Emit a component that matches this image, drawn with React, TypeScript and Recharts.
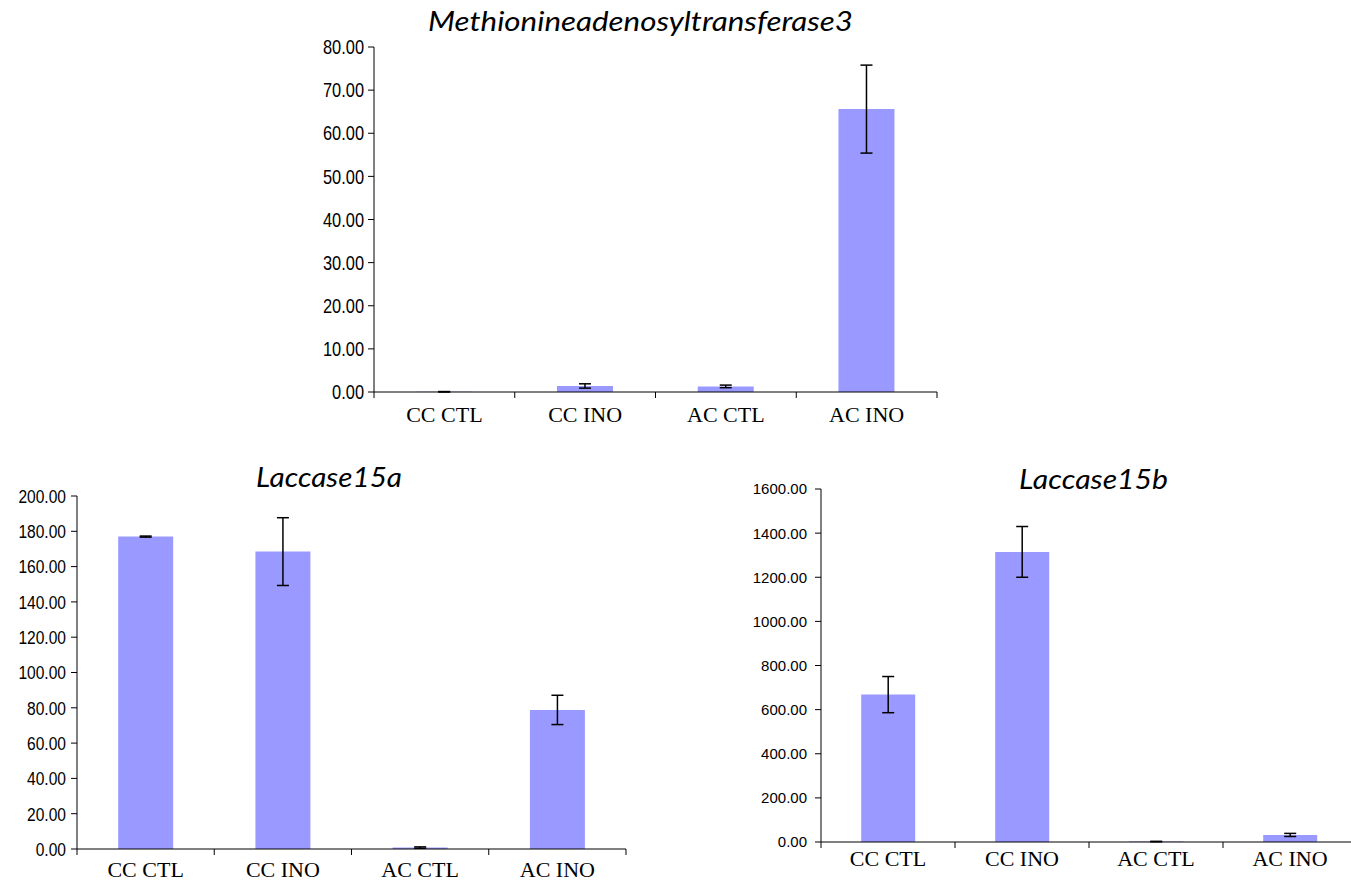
import React from 'react';
import { BarChart, Bar, XAxis, YAxis, ErrorBar } from 'recharts';

const categories = ['CC CTL', 'CC INO', 'AC CTL', 'AC INO'];

const matValues = [0.05, 1.4, 1.3, 65.6];
const matErrors = [0.05, 0.5, 0.3, 10.2];
const matTicks = [0, 10, 20, 30, 40, 50, 60, 70, 80];

const lac15aValues = [177, 168.5, 0.8, 78.8];
const lac15aErrors = [0.3, 19.2, 0.4, 8.3];
const lac15aTicks = [0, 20, 40, 60, 80, 100, 120, 140, 160, 180, 200];

const lac15bValues = [668, 1315, 2, 32];
const lac15bErrors = [82, 115, 1, 7];
const lac15bTicks = [0, 200, 400, 600, 800, 1000, 1200, 1400, 1600];

const BAR_COLOR = '#9999ff';

function toRows(values: number[], errors: number[]) {
  return categories.map((name, i) => ({ name, value: values[i], err: errors[i] }));
}

interface PanelProps {
  left: number;
  top: number;
  width: number;
  height: number;
  marginTop: number;
  marginRight: number;
  yAxisWidth: number;
  xAxisHeight: number;
  values: number[];
  errors: number[];
  ticks: number[];
  tickSize: number;
  tickSquash: number; // horizontal squeeze of the value labels (narrow font look)
  tickMargin: number;
  labelDy: number;
}

function Panel(p: PanelProps) {
  const data = toRows(p.values, p.errors);
  const plotWidth = p.width - p.marginRight - p.yAxisWidth;
  const half = plotWidth / categories.length / 2;

  const CategoryTick = (props: any) => {
    const { x, y, payload, index } = props;
    return (
      <g>
        <line x1={x - half} x2={x - half} y1={y} y2={y + 6} stroke="#000" />
        {index === categories.length - 1 && (
          <line x1={x + half} x2={x + half} y1={y} y2={y + 6} stroke="#000" />
        )}
        <text
          x={x}
          y={y + p.labelDy}
          textAnchor="middle"
          fontFamily="'Liberation Serif', 'Times New Roman', serif"
          fontSize={22}
          fill="#000"
        >
          {payload.value}
        </text>
      </g>
    );
  };

  const ValueTick = (props: any) => {
    const { x, y, payload } = props;
    return (
      <text
        transform={`translate(${x},${y}) scale(${p.tickSquash},1)`}
        textAnchor="end"
        dy="0.36em"
        fontFamily="'Liberation Sans', Arial, sans-serif"
        fontSize={p.tickSize}
        fill="#000"
      >
        {Number(payload.value).toFixed(2)}
      </text>
    );
  };

  return (
    <div style={{ position: 'absolute', left: p.left, top: p.top }}>
      <BarChart
        width={p.width}
        height={p.height}
        data={data}
        margin={{ top: p.marginTop, right: p.marginRight, left: 0, bottom: 0 }}
        barCategoryGap="30%"
      >
        <XAxis
          dataKey="name"
          height={p.xAxisHeight}
          axisLine={{ stroke: '#000' }}
          tickLine={false}
          tickSize={0}
          tickMargin={0}
          interval={0}
          tick={<CategoryTick />}
        />
        <YAxis
          width={p.yAxisWidth}
          domain={[p.ticks[0], p.ticks[p.ticks.length - 1]]}
          ticks={p.ticks}
          interval={0}
          allowDataOverflow
          axisLine={{ stroke: '#000' }}
          tickLine={{ stroke: '#000' }}
          tickSize={6}
          tickMargin={p.tickMargin}
          tick={<ValueTick />}
        />
        <Bar dataKey="value" fill={BAR_COLOR} isAnimationActive={false}>
          <ErrorBar dataKey="err" width={6} strokeWidth={1.5} stroke="#000" direction="y" />
        </Bar>
      </BarChart>
    </div>
  );
}

const titleFont = "Lato, 'Open Sans', sans-serif";

export default function App() {
  return (
    <div
      style={{
        position: 'absolute',
        left: 0,
        top: 0,
        width: 1351,
        height: 881,
        overflow: 'hidden',
        background: '#fff',
      }}
    >
      <Panel
        left={0}
        top={0}
        width={950}
        height={440}
        marginTop={47}
        marginRight={13}
        yAxisWidth={374}
        xAxisHeight={48}
        values={matValues}
        errors={matErrors}
        ticks={matTicks}
        tickSize={20}
        tickSquash={0.82}
        tickMargin={4}
        labelDy={30}
      />
      <Panel
        left={0}
        top={440}
        width={640}
        height={441}
        marginTop={56}
        marginRight={14}
        yAxisWidth={77}
        xAxisHeight={32}
        values={lac15aValues}
        errors={lac15aErrors}
        ticks={lac15aTicks}
        tickSize={19}
        tickSquash={0.82}
        tickMargin={5}
        labelDy={28}
      />
      <Panel
        left={700}
        top={440}
        width={680}
        height={441}
        marginTop={49}
        marginRight={23}
        yAxisWidth={121}
        xAxisHeight={39}
        values={lac15bValues}
        errors={lac15bErrors}
        ticks={lac15bTicks}
        tickSize={15}
        tickSquash={1}
        tickMargin={8}
        labelDy={24}
      />
      <svg
        width={1351}
        height={881}
        style={{ position: 'absolute', left: 0, top: 0, pointerEvents: 'none' }}
      >
        <text
          x={428}
          y={31}
          fontFamily={titleFont}
          fontStyle="italic"
          fontSize={27}
          textLength={425}
          lengthAdjust="spacingAndGlyphs"
          fill="#000"
        >
          Methionineadenosyltransferase3
        </text>
        <text
          x={256}
          y={487}
          fontFamily={titleFont}
          fontStyle="italic"
          fontSize={27}
          textLength={146}
          lengthAdjust="spacingAndGlyphs"
          fill="#000"
        >
          Laccase15a
        </text>
        <text
          x={1019}
          y={489}
          fontFamily={titleFont}
          fontStyle="italic"
          fontSize={27}
          textLength={149}
          lengthAdjust="spacingAndGlyphs"
          fill="#000"
        >
          Laccase15b
        </text>
      </svg>
    </div>
  );
}
